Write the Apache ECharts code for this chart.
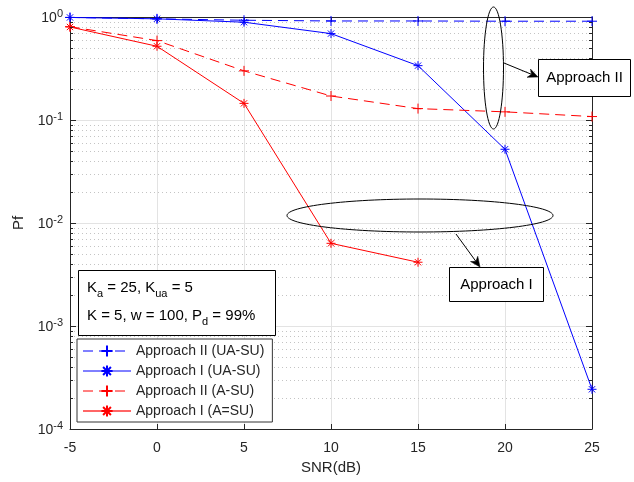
<!DOCTYPE html>
<html><head><meta charset="utf-8">
<script src="https://cdn.jsdelivr.net/npm/echarts@6/dist/echarts.min.js"></script>
<style>html,body{margin:0;padding:0;background:#fff}#c{width:634px;height:482px}</style>
</head><body><div id="c"></div>
<script>
// ---- data ----
const snr = [-5, 0, 5, 10, 15, 20, 25];
const approachII_UA = [0.99, 0.96, 0.93, 0.915, 0.915, 0.91, 0.91];
const approachI_UA = [0.99, 0.96, 0.89, 0.69, 0.337, 0.052, 0.000243];
const approachII_A = [0.805, 0.59, 0.30, 0.171, 0.129, 0.12, 0.108];
const approachI_A = [0.80, 0.52, 0.145, 0.00635, 0.00416];
const seriesNames = ['Approach II (UA-SU)', 'Approach I (UA-SU)', 'Approach II (A-SU)', 'Approach I (A=SU)'];
const xTickLabels = ['-5', '0', '5', '10', '15', '20', '25'];
const yDecades = [-4, -3, -2, -1, 0];

const FONT = 'Liberation Sans, Arial, Helvetica, sans-serif';
const AX = '#262626';
const BLUE = '#0000ff', RED = '#ff0000';
const PLUS = 'path://M0,-5L0,5M-5,0L5,0';
const STAR = 'path://M0,-5L0,5M-5,0L5,0M-3.5,-3.5L3.5,3.5M-3.5,3.5L3.5,-3.5';

function pairs(xs, ys) { return ys.map((v, i) => [xs[i], v]); }

function mkSeries(name, data, color, dashed, sym, size) {
  return {
    name, type: 'line', data, xAxisIndex: 0, yAxisIndex: 0,
    symbol: sym, symbolSize: size, showSymbol: true,
    lineStyle: { color, width: 1, type: dashed ? [10, 6] : 'solid' },
    itemStyle: { color, borderColor: color, borderWidth: 1 },
    emphasis: { disabled: true }, animation: false, z: 3
  };
}

const chart = echarts.init(document.getElementById('c'), null, { renderer: 'canvas' });

const yLabelRich = {
  b: { fontSize: 14, fontFamily: FONT, color: AX, verticalAlign: 'bottom', lineHeight: 14 },
  s: { fontSize: 11, fontFamily: FONT, color: AX, verticalAlign: 'bottom', lineHeight: 11, padding: [0, 0, 6, 0] }
};

const option = {
  animation: false,
  backgroundColor: '#fff',
  textStyle: { fontFamily: FONT },
  grid: { left: 70, right: 42, top: 17, bottom: 53, containLabel: false },
  xAxis: [{
    type: 'value', min: -5, max: 25, interval: 5, position: 'bottom',
    name: 'SNR(dB)', nameLocation: 'middle', nameGap: 30,
    nameTextStyle: { fontSize: 15, color: AX, fontFamily: FONT },
    axisLine: { show: true, onZero: false, lineStyle: { color: AX, width: 1 } },
    axisTick: { show: true, inside: true, length: 5, lineStyle: { color: AX } },
    axisLabel: { fontSize: 14, color: AX, margin: 12, fontFamily: FONT,
      formatter: v => xTickLabels[snr.indexOf(v)] ?? String(v) },
    splitLine: { show: true, lineStyle: { color: '#e3e3e3', width: 1 } }
  }, {
    type: 'value', min: -5, max: 25, interval: 5, position: 'top',
    axisLine: { show: true, onZero: false, lineStyle: { color: AX, width: 1 } },
    axisTick: { show: true, inside: true, length: 5, lineStyle: { color: AX } },
    axisLabel: { show: false }, splitLine: { show: false }
  }],
  yAxis: [{
    type: 'log', logBase: 10, min: 1e-4, max: 1, position: 'left',
    name: 'Pf', nameLocation: 'middle', nameGap: 44, nameRotate: 90,
    nameTextStyle: { fontSize: 15, color: AX, fontFamily: FONT },
    axisLine: { show: true, onZero: false, lineStyle: { color: AX, width: 1 } },
    axisTick: { show: true, inside: true, length: 6, lineStyle: { color: AX } },
    axisLabel: { margin: 7, color: AX, rich: yLabelRich, padding: [3, 0, 0, 0],
      formatter: v => '{b|10}{s|' + Math.round(Math.log10(v)) + '}' },
    splitLine: { show: true, lineStyle: { color: '#e3e3e3', width: 1 } }
  }, {
    type: 'log', logBase: 10, min: 1e-4, max: 1, position: 'right',
    axisLine: { show: true, onZero: false, lineStyle: { color: AX, width: 1 } },
    axisTick: { show: true, inside: true, length: 6, lineStyle: { color: AX } },
    axisLabel: { show: false }, splitLine: { show: false }
  }],
  legend: {
    orient: 'vertical', left: 77, top: 339,
    padding: [5, 8, 4, 5], itemGap: 6, itemWidth: 48, itemHeight: 14,
    backgroundColor: '#fff', borderColor: '#333', borderWidth: 1, borderRadius: 0,
    textStyle: { fontSize: 14, color: AX, fontFamily: FONT },
    selectedMode: false,
    data: [
      { name: seriesNames[0], lineStyle: { width: 1 } },
      { name: seriesNames[1], lineStyle: { width: 1 } },
      { name: seriesNames[2], lineStyle: { width: 1 } },
      { name: seriesNames[3], lineStyle: { width: 2, opacity: 0.6 } }
    ]
  },
  series: [
    mkSeries(seriesNames[0], pairs(snr, approachII_UA), BLUE, true, PLUS, 10),
    mkSeries(seriesNames[1], pairs(snr, approachI_UA), BLUE, false, STAR, 9),
    mkSeries(seriesNames[2], pairs(snr, approachII_A), RED, true, PLUS, 10),
    mkSeries(seriesNames[3], pairs(snr, approachI_A), RED, false, STAR, 9)
  ]
};
chart.setOption(option);

// minor log grid lines and ticks computed through the axis scales
const g = [];
const xL = chart.convertToPixel({ xAxisIndex: 0 }, -5);
const xR = chart.convertToPixel({ xAxisIndex: 0 }, 25);
for (const d of yDecades.slice(0, -1)) {
  for (let m = 2; m <= 9; m++) {
    const y = Math.round(chart.convertToPixel({ yAxisIndex: 0 }, m * Math.pow(10, d))) + 0.5;
    g.push({ type: 'line', silent: true, z: 1,
      shape: { x1: xL, y1: y, x2: xR, y2: y },
      style: { stroke: '#c4c4c4', lineWidth: 1, lineDash: [1, 3] } });
    g.push({ type: 'line', silent: true, z: 5,
      shape: { x1: xL, y1: y, x2: xL + 3, y2: y }, style: { stroke: AX, lineWidth: 1 } });
    g.push({ type: 'line', silent: true, z: 5,
      shape: { x1: xR - 3, y1: y, x2: xR, y2: y }, style: { stroke: AX, lineWidth: 1 } });
  }
}

// annotations
function arrow(x1, y1, x2, y2) {
  const dx = x2 - x1, dy = y2 - y1, L = Math.hypot(dx, dy);
  const ux = dx / L, uy = dy / L, px = -uy, py = ux;
  const hl = 10, hw = 4.5;
  const bx = x2 - ux * hl, by = y2 - uy * hl;
  const nx = x2 - ux * hl * 0.7, ny = y2 - uy * hl * 0.7;
  return [
    { type: 'line', z: 20, silent: true, shape: { x1, y1, x2: nx, y2: ny }, style: { stroke: '#000', lineWidth: 1 } },
    { type: 'polygon', z: 20, silent: true,
      shape: { points: [[x2, y2], [bx + px * hw, by + py * hw], [nx, ny], [bx - px * hw, by - py * hw]] },
      style: { fill: '#000', stroke: '#000', lineWidth: 0.5 } }
  ];
}
g.push({ type: 'ellipse', z: 20, silent: true, shape: { cx: 493.5, cy: 68, rx: 10, ry: 61 },
  style: { fill: 'none', stroke: '#000', lineWidth: 1 } });
g.push(...arrow(504, 63, 538, 77));
g.push({ type: 'rect', z: 20, silent: true, shape: { x: 538.5, y: 59.5, width: 92, height: 37 },
  style: { fill: '#fff', stroke: '#000', lineWidth: 1 } });
g.push({ type: 'text', z: 21, silent: true, x: 584.5, y: 78,
  style: { text: 'Approach II', font: '15px ' + FONT, fill: '#000', align: 'center', verticalAlign: 'middle' } });

g.push({ type: 'ellipse', z: 20, silent: true, shape: { cx: 420, cy: 215.5, rx: 133, ry: 16.5 },
  style: { fill: 'none', stroke: '#000', lineWidth: 1 } });
g.push(...arrow(456, 234, 480, 267));
g.push({ type: 'rect', z: 20, silent: true, shape: { x: 449.5, y: 267.5, width: 94, height: 34 },
  style: { fill: '#fff', stroke: '#000', lineWidth: 1 } });
g.push({ type: 'text', z: 21, silent: true, x: 496.5, y: 285,
  style: { text: 'Approach I', font: '15px ' + FONT, fill: '#000', align: 'center', verticalAlign: 'middle' } });

// parameter box
g.push({ type: 'rect', z: 20, silent: true, shape: { x: 78.5, y: 270.5, width: 197, height: 65 },
  style: { fill: '#fff', stroke: '#000', lineWidth: 1 } });
const richSub = {
  b: { fontSize: 15, fontFamily: FONT, fill: '#000', color: '#000', lineHeight: 17, verticalAlign: 'top' },
  s: { fontSize: 11, fontFamily: FONT, fill: '#000', color: '#000', lineHeight: 11, verticalAlign: 'top', padding: [8, 0, 0, 0] }
};
g.push({ type: 'text', z: 21, silent: true, x: 87, y: 280,
  style: { text: '{b|K}{s|a}{b| = 25, K}{s|ua}{b| = 5}', rich: richSub, fill: '#000' } });
g.push({ type: 'text', z: 21, silent: true, x: 87, y: 308,
  style: { text: '{b|K = 5, w = 100, P}{s|d}{b| = 99%}', rich: richSub, fill: '#000' } });

chart.setOption({ graphic: g });
</script>
</body></html>
